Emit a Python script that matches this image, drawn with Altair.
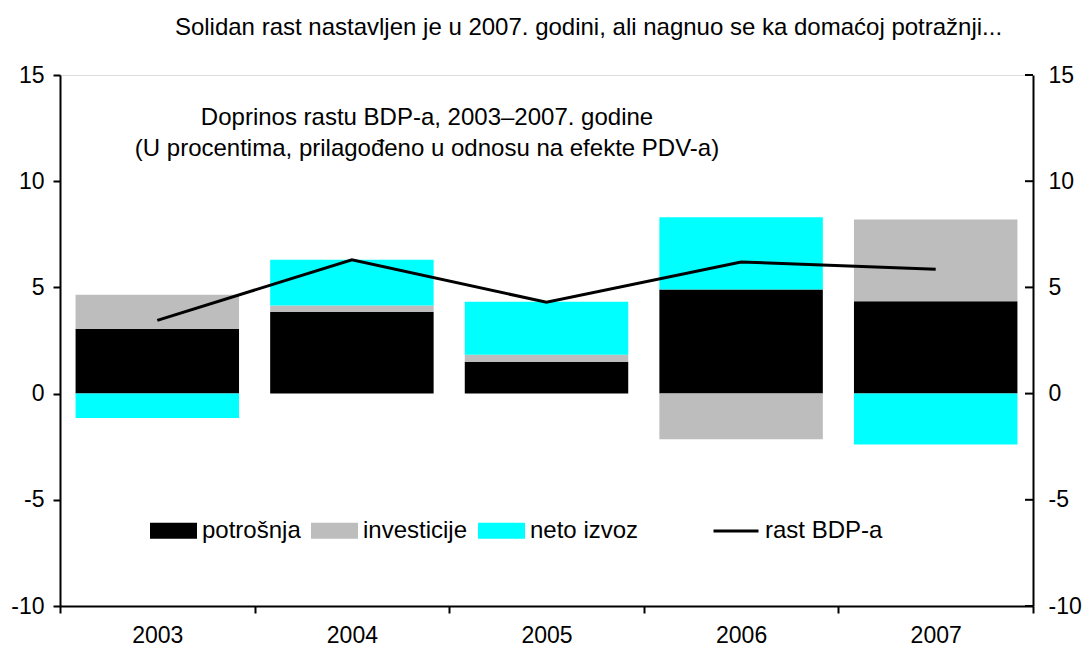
import altair as alt
import pandas as pd

years = ["2003", "2004", "2005", "2006", "2007"]
components = ["potrošnja", "investicije", "neto izvoz"]
potrosnja = [3.05, 3.85, 1.5, 4.9, 4.35]
investicije = [1.6, 0.3, 0.33, -2.15, 3.85]
neto_izvoz = [-1.15, 2.15, 2.5, 3.4, -2.4]
rast_bdp = [3.45, 6.3, 4.3, 6.2, 5.85]
y_ticks = [-10, -5, 0, 5, 10, 15]
colors = ["#000000", "#BDBDBD", "#00FFFF"]

title_text = "Solidan rast nastavljen je u 2007. godini, ali nagnuo se ka domaćoj potražnji..."
subtitle_text = "Doprinos rastu BDP-a, 2003–2007. godine\n(U procentima, prilagođeno u odnosu na efekte PDV-a)"

FONT = "Liberation Sans"
FS = 24
AFS = 23
W, H = 973, 531

rows = []
for i, y in enumerate(years):
    for j, (c, vals) in enumerate(zip(components, [potrosnja, investicije, neto_izvoz])):
        rows.append({"year": y, "component": c, "value": vals[i], "order": j})
bars_df = pd.DataFrame(rows)
line_df = pd.DataFrame({"year": years, "gdp": rast_bdp, "series": ["rast BDP-a"] * len(years)})
ticks_df = pd.DataFrame({"t": y_ticks})

yscale = alt.Scale(domain=[-10, 15], nice=False, zero=False)
xscale = alt.Scale(paddingInner=0, paddingOuter=0)
num_label = "'' + datum.value"

bars = alt.Chart(bars_df).mark_bar(width=alt.RelativeBandSize(0.84)).encode(
    x=alt.X("year:N", scale=xscale, sort=years, title=None,
            axis=alt.Axis(labelAngle=0, tickBand="extent", tickSize=7, tickWidth=2,
                          tickColor="black", domainColor="black", domainWidth=2,
                          labelFontSize=AFS, labelFont=FONT, labelColor="black",
                          labelPadding=11, grid=False)),
    y=alt.Y("value:Q", scale=yscale, stack="zero", title=None,
            axis=alt.Axis(values=y_ticks, orient="left", tickSize=7, tickWidth=2,
                          tickColor="black", domainColor="black", domainWidth=2,
                          labelFontSize=AFS, labelFont=FONT, labelColor="black",
                          labelExpr=num_label, labelPadding=9, grid=False)),
    fill=alt.Fill("component:N", scale=alt.Scale(domain=components, range=colors),
                  legend=alt.Legend(title=None, orient="none", direction="horizontal",
                                    legendX=90, legendY=432, padding=0,
                                    symbolType="M-1,-0.34H1V0.34H-1Z", symbolSize=2209,
                                    symbolStrokeWidth=0, labelFontSize=FS, labelFont=FONT,
                                    labelColor="black", labelOffset=5, columnPadding=10)),
    order=alt.Order("order:Q"),
)

line = alt.Chart(line_df).mark_line(strokeWidth=3).encode(
    x=alt.X("year:N", sort=years),
    y=alt.Y("gdp:Q", scale=yscale, axis=None),
    stroke=alt.Stroke("series:N", scale=alt.Scale(domain=["rast BDP-a"], range=["black"]),
                      legend=alt.Legend(title=None, orient="none", direction="horizontal",
                                        legendX=652, legendY=432, padding=0,
                                        symbolType="stroke", symbolSize=2025,
                                        symbolStrokeWidth=3, labelFontSize=FS, labelFont=FONT,
                                        labelColor="black", labelOffset=5)),
)

right_axis = alt.Chart(ticks_df).mark_rule(color="black", strokeWidth=2).encode(
    y=alt.Y("t:Q", scale=yscale, title=None,
            axis=alt.Axis(values=y_ticks, orient="right", ticks=False, tickSize=0,
                          domainColor="black", domainWidth=2,
                          labelFontSize=AFS, labelFont=FONT, labelColor="black",
                          labelExpr=num_label, labelPadding=15, grid=False)),
    x=alt.value(W - 8),
    x2=alt.value(W),
)

subtitle = alt.Chart(pd.DataFrame({"s": [subtitle_text]})).mark_text(
    font=FONT, fontSize=FS, color="black", align="center", baseline="alphabetic",
    lineBreak="\n", lineHeight=31,
).encode(text="s:N", x=alt.value(367), y=alt.value(50))

chart = alt.layer(bars, line, right_axis, subtitle).resolve_axis(y="independent").resolve_scale(
    fill="independent", stroke="independent"
).properties(
    width=W, height=H,
    title=alt.TitleParams(title_text, font=FONT, fontSize=FS, fontWeight="normal",
                          color="black", anchor="middle", frame="group", dx=42, offset=24),
    autosize=alt.AutoSizeParams(type="none"),
    padding={"left": 52, "top": 67, "right": 51, "bottom": 42},
).configure_view(stroke="black", strokeWidth=2).configure(background="white")

chart.save("out.html", embed_options={"renderer": "svg", "actions": False})
